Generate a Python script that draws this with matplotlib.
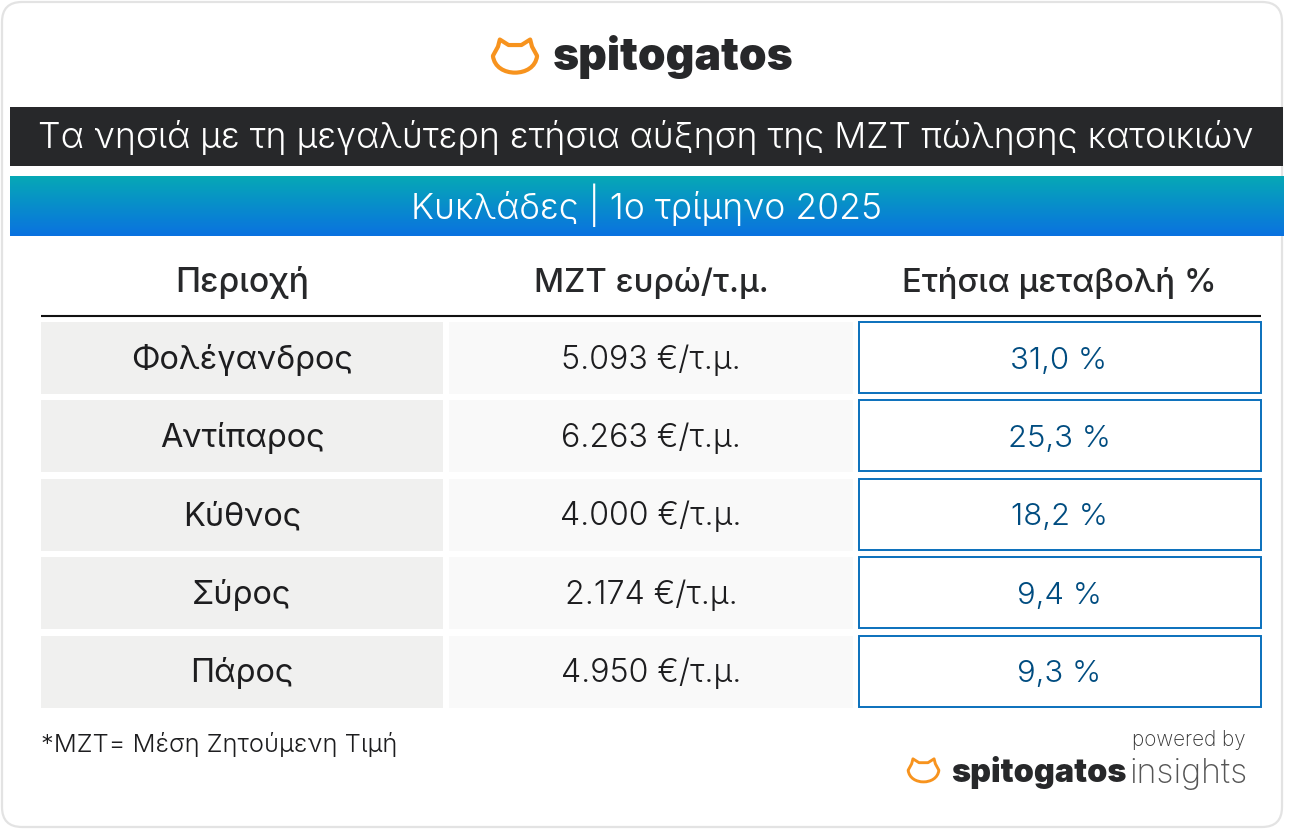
# -*- coding: utf-8 -*-
import numpy as np
import matplotlib
matplotlib.use("Agg")
import matplotlib.pyplot as plt
from matplotlib.colors import LinearSegmentedColormap
from matplotlib.patches import FancyBboxPatch, PathPatch, Rectangle
from matplotlib.path import Path

title = "Τα νησιά με τη μεγαλύτερη ετήσια αύξηση της ΜΖΤ πώλησης κατοικιών"
subtitle = "Κυκλάδες | 1ο τρίμηνο 2025"
headers = ["Περιοχή", "ΜΖΤ ευρώ/τ.μ.", "Ετήσια μεταβολή %"]
areas = ["Φολέγανδρος", "Αντίπαρος", "Κύθνος", "Σύρος", "Πάρος"]
prices = ["5.093 €/τ.μ.", "6.263 €/τ.μ.", "4.000 €/τ.μ.", "2.174 €/τ.μ.", "4.950 €/τ.μ."]
changes = ["31,0 %", "25,3 %", "18,2 %", "9,4 %", "9,3 %"]
footnote = "*ΜΖΤ= Μέση Ζητούμενη Τιμή"

W, H = 1293, 829
plt.rcParams['font.family'] = ['Inter', 'DejaVu Sans']

# small extra so the pixel size does not get floored to 828
fig = plt.figure(figsize=((W + 0.01) / 100, (H + 0.01) / 100), dpi=100, facecolor="white")
ax = fig.add_axes([0, 0, 1, 1])
ax.set_xlim(0, W)
ax.set_ylim(H, 0)
ax.axis("off")
renderer = fig.canvas.get_renderer()


def fit_size(s, width, weight):
    # font size that makes the text the wanted width in pixels
    t = ax.text(0, 0, s, fontsize=20, weight=weight)
    w = t.get_window_extent(renderer).width
    t.remove()
    return 20 * width / w


def put(x, y, s, width, weight=300, color="#27282A", ha="center", size=None):
    if size is None:
        size = fit_size(s, width, weight)
    ax.text(x, y, s, fontsize=size, weight=weight, color=color, ha=ha, va="baseline", zorder=3)


def cat(cx, cy, s):
    # logo outline, s is half of the width
    right = [(0, -0.52), (0.28, -0.52), (0.66, -0.76), (0.74, -0.45), (0.96, -0.05)]
    verts = right + [(0.9, 0.45), (0.45, 0.68), (0, 0.68)]
    verts += [(-0.45, 0.68), (-0.9, 0.45), (-0.96, -0.05)]
    verts += [(-0.74, -0.45), (-0.66, -0.76), (-0.28, -0.52), (0, -0.52), (0, -0.52)]
    codes = [Path.MOVETO] + [Path.LINETO] * 4 + [Path.CURVE4] * 6
    codes += [Path.LINETO] * 4 + [Path.CLOSEPOLY]
    pts = [(cx + x * s, cy + y * s) for x, y in verts]
    ax.add_patch(PathPatch(Path(pts, codes), fc="none", ec="#F7931E", lw=s * 0.13,
                           joinstyle="round", zorder=3))


# card
ax.add_patch(FancyBboxPatch((2, 2), 1280, 825, boxstyle="round,pad=0,rounding_size=20",
                            fc="white", ec="#E3E3E3", lw=1.6))

# logo
cat(515, 57, 23)
put(673, 70, "spitogatos", 240, weight=900)

# title bands
ax.add_patch(Rectangle((10, 107), 1273, 59, fc="#27282A", ec="none"))
put(646, 148, title, 1218, color="white")
cmap = LinearSegmentedColormap.from_list("band", ["#06A8B6", "#0A72E0"])
ax.imshow(np.linspace(0, 1, 59).reshape(-1, 1), cmap=cmap, aspect="auto",
          extent=(10, 1283, 236, 177), zorder=1)
ax.set_xlim(0, W)
ax.set_ylim(H, 0)
put(646.5, 219, subtitle, 471, color="white")

# header row
col_x = [41, 449, 858]
col_w = [402, 404, 403]
col_c = [242, 651, 1059]
put(col_c[0], 292, headers[0], 134, weight=500)
put(col_c[1], 292, headers[1], 235, weight=500)
put(col_c[2], 292, headers[2], 314, weight=500)
ax.plot([41, 1261], [316, 316], color="#111111", lw=1.5, solid_capstyle="butt")

# table rows
row_y = [322, 400.5, 479, 557.5, 636]
text_y = [369, 447, 525, 604, 682]
row_h = 72
area_size = fit_size(areas[0], 222, 400)
price_size = fit_size(prices[0], 180, 300)
change_size = fit_size(changes[0], 97, 300)
for y, ty, a, p, c in zip(row_y, text_y, areas, prices, changes):
    ax.add_patch(Rectangle((col_x[0], y), col_w[0], row_h, fc="#F0F0EF", ec="none"))
    ax.add_patch(Rectangle((col_x[1], y), col_w[1], row_h, fc="#F9F9F9", ec="none"))
    ax.add_patch(Rectangle((col_x[2] + 0.5, y), col_w[2] - 1, row_h - 1, fc="white",
                           ec="#0A70BC", lw=1.4))
    put(col_c[0], ty, a, 0, weight=400, color="#1D1D1F", size=area_size)
    put(col_c[1], ty, p, 0, color="#1D1D1F", size=price_size)
    put(col_c[2], ty, c, 0, color="#004C80", size=change_size)

# footer
put(41, 752, footnote, 357, color="#1D1D1F", ha="left")
put(1246, 746, "powered by", 113, color="#333333", ha="right", weight=250)
cat(923.5, 771, 16)
put(1038.5, 782, "spitogatos", 175, weight=900)
put(1248, 783, "insights", 118, color="#555555", ha="right", weight=250)

fig.savefig("out.png", dpi=100, facecolor="white")
